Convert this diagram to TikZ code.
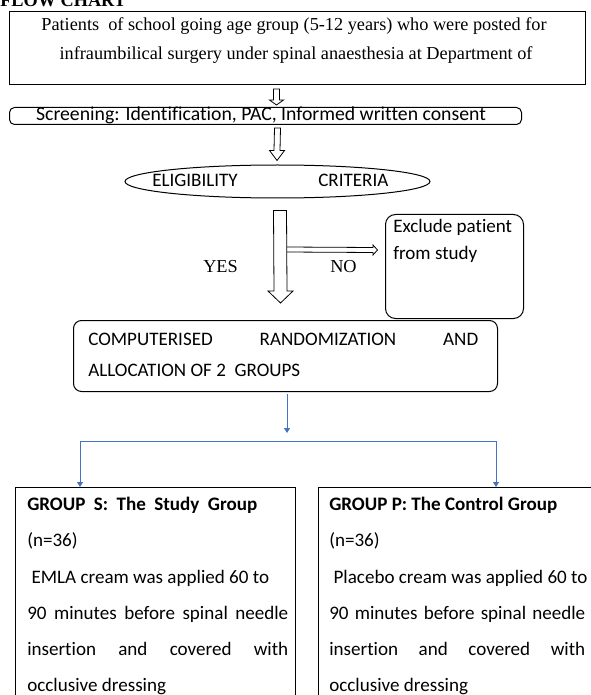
\documentclass[tikz,border=0pt]{standalone}
\usepackage{fontspec}
\setmainfont{Liberation Serif}
\newfontfamily\calibri[Ligatures=NoCommon]{Carlito}
\usetikzlibrary{calc,shapes.geometric,arrows.meta}
\definecolor{wordblue}{RGB}{68,114,196}

\newcommand{\pxw}[1]{#1*0.75pt}
% hollow block arrow pointing down: from, tip, shaft half width, head half width, head length
\newcommand{\blockdown}[5]{%
  \draw[blockline] ($(#1)+(-#3,0)$) -- ($(#2)+(-#3,-#5)$) -- ($(#2)+(-#4,-#5)$) -- (#2)
    -- ($(#2)+(#4,-#5)$) -- ($(#2)+(#3,-#5)$) -- ($(#1)+(#3,0)$) -- cycle;}

\begin{document}
\begin{tikzpicture}[x=0.75pt,y=0.75pt,yscale=-1,xscale=1,
  box/.style={draw, line width=0.75pt, anchor=north west, inner sep=0pt},
  blockline/.style={draw, line width=0.6pt, fill=white},
  cal/.style={anchor=base west, inner sep=0pt, font=\calibri\fontsize{14.3pt}{16pt}\selectfont},
  calbold/.style={cal, font=\calibri\bfseries\fontsize{14.3pt}{16pt}\selectfont},
  times/.style={anchor=base, inner sep=0pt, font=\fontsize{13.7pt}{16pt}\selectfont},
  bluearrow/.style={draw=wordblue, line width=0.75pt, -{Triangle[length=3.75pt,width=4.5pt]}}]
	\useasboundingbox (0,0) rectangle (590,695);

	% Title
	\node[anchor=base west, inner sep=0pt, font=\bfseries\fontsize{13.7pt}{16pt}\selectfont] (title) at (0,7) {FLOW CHART};

	% Patients box
	\node[box, minimum width=\pxw{576}, minimum height=\pxw{73}] (patients) at (9,11) {};
	\node[times] (pat1) at (294,31) {Patients~ of school going age group (5-12 years) who were posted for};
	\node[times] (pat2) at (296,60) {infraumbilical surgery under spinal anaesthesia at Department of};

	% Screening box
	\node[box, rounded corners=3.75pt, minimum width=\pxw{512}, minimum height=\pxw{17}] (screening) at (9,107) {};
	\node[cal, anchor=base, font=\calibri\fontsize{14.8pt}{16pt}\selectfont] (screentext) at (261,121) {Screening: Identification, PAC, Informed written consent};

	% Eligibility
	\node[draw, ellipse, line width=0.75pt, minimum width=\pxw{305}, minimum height=\pxw{33}, inner sep=0pt] (eligibility) at (277.5,181.5) {};
	\node[cal] (elig1) at (152,187) {ELIGIBILITY};
	\node[cal] (elig2) at (318,187) {CRITERIA};

	% Exclude box
	\node[box, rounded corners=7.5pt, minimum width=\pxw{138}, minimum height=\pxw{104}] (exclude) at (385,214) {};
	\node[cal] (excl1) at (393,233) {Exclude patient};
	\node[cal] (excl2) at (393,259) {from study};

	% Randomization box
	\node[box, rounded corners=6pt, minimum width=\pxw{424}, minimum height=\pxw{71}] (random) at (73,320) {};
	\node[cal] (rand1) at (88,345) {\makebox[292.5pt][s]{COMPUTERISED RANDOMIZATION AND}};
	\node[cal] (rand2) at (88,376) {ALLOCATION OF 2~ GROUPS};

	% Group boxes
	\node[box, minimum width=\pxw{280}, minimum height=\pxw{240}] (groupS) at (15,487) {};
	\node[box, minimum width=\pxw{300}, minimum height=\pxw{240}] (groupP) at (318,487) {};

	% Hollow arrows
	\coordinate (a1from) at ($(patients.south)+(-21,4)$);
	\coordinate (a1to) at ($(screening.north)+(11,-2)$);
	\blockdown{a1from}{a1to}{3}{7}{5}
	\coordinate (a2from) at ($(screening.south)+(12,3)$);
	\coordinate (a2to) at ($(eligibility.north)+(-0.5,-4)$);
	\blockdown{a2from}{a2to}{3}{7.5}{10}
	% NO branch
	\coordinate (nofrom) at ($(eligibility.south)+(9,51)$);
	\coordinate (noto) at ($(exclude.west)+(-7.5,-16.5)$);
	\draw[blockline] ($(nofrom)+(0,-2.5)$) -- ($(noto)+(-4.5,-2.5)$) -- ($(noto)+(-4.5,-5)$) -- (noto)
	  -- ($(noto)+(-4.5,5)$) -- ($(noto)+(-4.5,2.5)$) -- ($(nofrom)+(0,2.5)$);
	\coordinate (a3from) at ($(eligibility.south)+(2.5,12)$);
	\coordinate (a3to) at ($(random.north)+(-5,-17)$);
	\blockdown{a3from}{a3to}{6.5}{12.5}{12}
	\node[times, anchor=base west] (yes) at (203,272) {YES};
	\node[times, anchor=base west] (no) at (330,272) {NO};

	% Blue connectors
	\coordinate (split) at (287,441);
	\draw[bluearrow] ($(split |- random.south)+(0,2)$) -- ($(split)+(0,-8)$);
	\draw[bluearrow] (split) -| ($(groupS.north west)+(65,0)$);
	\draw[bluearrow] (split) -| ($(groupP.north west)+(178,0)$);

	% Group S text
	\node[calbold] (sHead) at (27,510) {\makebox[172.5pt][s]{GROUP S: The Study Group}};
	\node[cal] (sN) at (27,546.5) {(n=36)};
	\node[cal] (sL1) at (27,583) {\ EMLA cream was applied 60 to};
	\node[cal] (sL2) at (27,619) {\makebox[195.75pt][s]{90 minutes before spinal needle}};
	\node[cal] (sL3) at (27,655) {\makebox[195.75pt][s]{insertion and covered with}};
	\node[cal] (sL4) at (27,691) {occlusive dressing};

	% Group P text
	\node[calbold] (pHead) at (329,510) {GROUP P: The Control Group};
	\node[cal] (pN) at (329,546.5) {(n=36)};
	\node[cal] (pL1) at (329,583) {\ Placebo cream was applied 60 to};
	\node[cal] (pL2) at (329,619) {\makebox[192pt][s]{90 minutes before spinal needle}};
	\node[cal] (pL3) at (329,655) {\makebox[192pt][s]{insertion and covered with}};
	\node[cal] (pL4) at (329,691) {occlusive dressing};
\end{tikzpicture}
\end{document}
